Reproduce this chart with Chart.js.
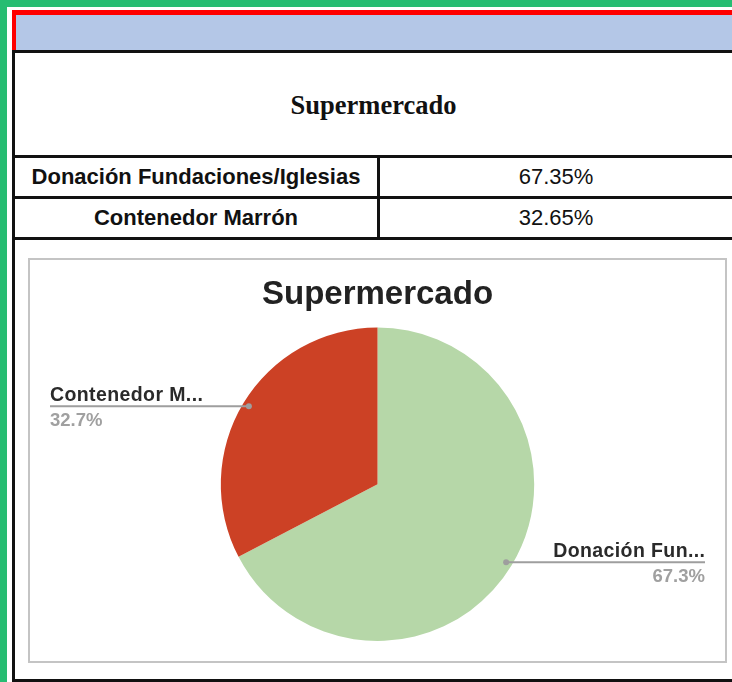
<!DOCTYPE html>
<html>
<head>
<meta charset="utf-8">
<script src="https://cdn.jsdelivr.net/npm/chart.js@4"></script>
<style>
  html, body { margin: 0; padding: 0; }
  body { width: 732px; height: 682px; position: relative; overflow: hidden; background: #fff; }
  .box { position: absolute; }
  .k { position: absolute; background: #111; }
  .cell { position: absolute; display: flex; align-items: center; justify-content: center;
          font-family: 'Liberation Sans', Arial, sans-serif; font-size: 22px; color: #111; }
  .cell.lab { font-weight: bold; }
  #head { font-family: 'Liberation Serif', 'Times New Roman', serif; font-weight: bold; font-size: 26.5px; }
  #frame { position: absolute; left: 28px; top: 258px; width: 695px; height: 401px; border: 2px solid #c4c4c4; }
  #wrap { position: absolute; left: 0; top: 0; width: 695px; height: 401px; }
</style>
</head>
<body>
<!-- green sheet edge -->
<div class="box" style="left:0;top:0;width:732px;height:7px;background:#27bd72"></div>
<div class="box" style="left:0;top:0;width:7px;height:682px;background:#27bd72"></div>
<!-- red selection + blue band -->
<div class="box" style="left:12px;top:10px;width:720px;height:5px;background:#ff0000"></div>
<div class="box" style="left:12px;top:10px;width:4px;height:41px;background:#ff0000"></div>
<div class="box" style="left:16px;top:15px;width:716px;height:35px;background:#b4c7e7"></div>
<!-- table rules -->
<div class="k" style="left:12px;top:50px;width:720px;height:3px"></div>
<div class="k" style="left:12px;top:50px;width:3px;height:632px"></div>
<div class="k" style="left:12px;top:155px;width:720px;height:3px"></div>
<div class="k" style="left:12px;top:196px;width:720px;height:3px"></div>
<div class="k" style="left:12px;top:237px;width:720px;height:3px"></div>
<div class="k" style="left:377px;top:155px;width:3px;height:85px"></div>
<div class="k" style="left:12px;top:679px;width:720px;height:3px"></div>

<div class="cell" id="head" style="left:15px;top:54px;width:717px;height:102px"></div>
<div id="rows"></div>

<div id="frame"><div id="wrap"><canvas id="pie"></canvas></div></div>

<script>
// ── data ────────────────────────────────────────────────────────────────
const TITLE      = 'Supermercado';
const categories = ['Donación Fundaciones/Iglesias', 'Contenedor Marrón'];
const values     = [67.35, 32.65];
const pctLabels  = ['67.3%', '32.7%'];
const colors     = ['#b6d7a8', '#cc4125'];

// ── table ───────────────────────────────────────────────────────────────
document.getElementById('head').textContent = TITLE;
const rowTops = [158, 199];
const rows = document.getElementById('rows');
categories.forEach((c, i) => {
  const a = document.createElement('div');
  a.className = 'cell lab';
  a.style.cssText = `left:15px;top:${rowTops[i]}px;width:362px;height:38px`;
  a.textContent = c;
  const b = document.createElement('div');
  b.className = 'cell';
  b.style.cssText = `left:380px;top:${rowTops[i]}px;width:352px;height:38px`;
  b.textContent = values[i].toFixed(2) + '%';
  rows.appendChild(a); rows.appendChild(b);
});

// ── callout labels ──────────────────────────────────────────────────────
const shortName = s => s.length > 12 ? s.slice(0, 12) + '...' : s;

const callouts = {
  id: 'callouts',
  afterDraw(chart) {
    const { ctx, width } = chart;
    const meta = chart.getDatasetMeta(0);
    meta.data.forEach((arc, i) => {
      const p = arc.getProps(['x', 'y', 'startAngle', 'endAngle', 'outerRadius'], true);
      const mid = (p.startAngle + p.endAngle) / 2;
      const dx = p.x + Math.cos(mid) * p.outerRadius * 0.96;
      const dy = p.y + Math.sin(mid) * p.outerRadius * 0.96;
      const left = Math.cos(mid) < 0;
      const edge = left ? 20 : width - 20;
      ctx.save();
      ctx.strokeStyle = '#9e9e9e';
      ctx.lineWidth = 2;
      ctx.beginPath();
      ctx.moveTo(dx, dy);
      ctx.lineTo(edge, dy);
      ctx.stroke();
      ctx.fillStyle = '#9e9e9e';
      ctx.beginPath();
      ctx.arc(dx, dy, 3, 0, Math.PI * 2);
      ctx.fill();
      ctx.textAlign = left ? 'left' : 'right';
      ctx.textBaseline = 'alphabetic';
      ctx.fillStyle = '#2a2a2a';
      ctx.font = 'bold 19.5px "Liberation Sans", Arial, sans-serif';
      ctx.letterSpacing = '0.4px';
      ctx.fillText(shortName(chart.data.labels[i]), left ? edge : edge + 0.4, dy - 5);
      ctx.letterSpacing = '0px';
      ctx.textBaseline = 'top';
      ctx.fillStyle = '#a0a0a0';
      ctx.font = 'bold 18.5px "Liberation Sans", Arial, sans-serif';
      ctx.fillText(pctLabels[i], edge, dy + 5);
      ctx.restore();
    });
  }
};

new Chart(document.getElementById('pie'), {
  type: 'pie',
  data: {
    labels: categories,
    datasets: [{ data: values, backgroundColor: colors, borderWidth: 0 }]
  },
  options: {
    responsive: true, maintainAspectRatio: false,
    animation: false,
    layout: { padding: { top: 0, bottom: 20, left: 150, right: 150 } },
    plugins: {
      legend: { display: false },
      tooltip: { enabled: false },
      title: {
        display: true, text: TITLE, color: '#222',
        font: { family: "'Liberation Sans', Arial, sans-serif", size: 33, weight: 'bold', lineHeight: 1.2 },
        padding: { top: 15, bottom: 13 }
      }
    }
  },
  plugins: [callouts]
});
</script>
</body>
</html>
